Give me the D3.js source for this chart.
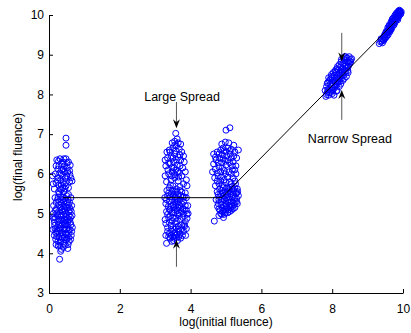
<!DOCTYPE html>
<html>
<head>
<meta charset="utf-8">
<script src="https://cdn.jsdelivr.net/npm/d3@7"></script>
<style>
html,body{margin:0;padding:0;background:#fff;}
svg{display:block;}
text{font-family:"Liberation Sans",Arial,Helvetica,sans-serif;fill:#000;}
</style>
</head>
<body>
<svg id="chart" width="411" height="333"></svg>
<script>
// ---------- data ----------
const xTicks = [0, 2, 4, 6, 8, 10];
const yTicks = [3, 4, 5, 6, 7, 8, 9, 10];
const xLabel = "log(initial fluence)";
const yLabel = "log(final fluence)";

const cluster1 = [
 [0.15,4.45],[0.22,4.62],[0.31,4.28],[0.40,4.15],[0.48,4.33],[0.55,4.5],[0.62,4.72],[0.18,4.9],[0.27,5.05],[0.36,4.85],
 [0.45,4.6],[0.52,4.88],[0.60,5.1],[0.13,5.2],[0.24,5.35],[0.33,5.15],[0.42,5.3],[0.50,5.45],[0.58,5.28],[0.65,4.95],
 [0.20,4.22],[0.28,4.4],[0.37,4.52],[0.46,4.2],[0.53,4.12],[0.35,4.1],[0.26,4.18],[0.44,4.4],[0.57,4.3],[0.63,4.45],
 [0.16,4.7],[0.25,4.8],[0.34,4.68],[0.43,4.75],[0.51,4.7],[0.59,4.6],[0.12,5.0],[0.21,5.12],[0.30,4.95],[0.39,5.05],
 [0.47,5.0],[0.56,5.05],[0.64,5.2],[0.17,5.4],[0.29,5.5],[0.38,5.42],[0.46,5.18],[0.54,5.35],[0.62,5.4],[0.11,4.6],
 [0.19,4.35],[0.32,4.58],[0.41,4.95],[0.49,4.48],[0.58,4.85],[0.66,4.65],[0.23,4.55],[0.35,4.32],[0.27,4.72],[0.44,5.12],
 [0.36,5.25],[0.52,5.15],[0.14,4.85],[0.61,4.35],[0.40,4.48],[0.30,5.3],[0.48,4.82],[0.22,5.0],[0.55,4.58],[0.33,4.05],
 [0.19,4.52],[0.29,4.62],[0.38,4.38],[0.47,4.5],[0.56,4.4],[0.64,4.55],[0.15,4.78],[0.24,4.95],[0.33,4.78],[0.42,4.62],
 [0.50,4.6],[0.60,4.78],[0.18,5.08],[0.27,5.22],[0.37,5.1],[0.46,5.08],[0.55,5.22],[0.63,5.05],[0.20,5.28],[0.33,5.42],
 [0.45,5.38],[0.55,5.48],[0.25,4.3],[0.42,4.25],[0.51,4.38],[0.30,4.5],[0.38,4.72],[0.48,4.92],[0.57,4.95],[0.12,4.9],
 [0.22,4.42],[0.35,4.95],[0.44,4.85],[0.53,4.78],[0.61,4.9],[0.39,5.35],[0.26,5.42],[0.49,5.28],[0.31,4.2],[0.58,5.15],
 [0.17,4.62],[0.41,5.18],[0.35,4.42],[0.28,4.85],[0.54,4.22],[0.45,4.72],
 [0.42,5.55],[0.35,5.6],[0.28,5.72],[0.20,5.78],[0.12,5.75],[0.10,5.95],[0.18,6.0],[0.25,5.9],[0.33,5.85],[0.40,5.78],
 [0.48,5.7],[0.55,5.65],[0.62,5.9],[0.50,5.95],[0.44,6.05],[0.36,6.1],[0.28,6.2],[0.22,6.35],[0.31,6.38],[0.40,6.3],
 [0.48,6.38],[0.55,6.3],[0.60,6.22],[0.52,6.15],[0.43,6.2],[0.30,6.02],[0.38,5.95],[0.58,5.8],[0.46,5.88],[0.25,6.12],
 [0.15,5.62],[0.65,5.82],[0.53,6.05],[0.35,5.72],[0.27,5.55],[0.42,6.38],[0.58,6.08],[0.39,5.65],[0.32,5.62],[0.24,5.82],
 [0.47,5.78],[0.35,6.0],[0.41,6.12],[0.27,6.32],[0.51,6.28],[0.59,5.98],[0.20,6.2],[0.45,5.62],[0.38,6.25],
 [0.48,6.9],[0.48,6.72],[0.30,3.85]
];

const cluster2 = [
 [3.30,4.45],[3.40,4.5],[3.50,4.42],[3.60,4.4],[3.70,4.48],[3.80,4.55],[3.88,4.62],[3.35,4.65],[3.45,4.7],[3.55,4.6],
 [3.65,4.68],[3.75,4.72],[3.85,4.8],[3.28,4.85],[3.38,4.9],[3.48,4.82],[3.58,4.88],[3.68,4.95],[3.78,4.9],[3.90,4.98],
 [3.32,5.05],[3.42,5.1],[3.52,5.02],[3.62,5.08],[3.72,5.15],[3.82,5.1],[3.92,5.2],[3.30,5.25],[3.40,5.3],[3.50,5.22],
 [3.60,5.28],[3.70,5.35],[3.80,5.3],[3.88,5.4],[3.35,5.45],[3.45,5.5],[3.55,5.42],[3.65,5.48],[3.75,5.55],[3.85,5.52],
 [3.33,5.58],[3.47,4.55],[3.57,4.75],[3.67,4.55],[3.43,4.95],[3.53,5.15],[3.63,4.98],[3.73,5.05],[3.37,5.18],[3.83,4.68],
 [3.58,5.38],[3.68,5.22],[3.48,5.35],[3.78,5.42],[3.62,4.48],[3.52,4.32],[3.72,4.38],[3.42,4.38],[3.93,5.0],[3.27,5.4],
 [3.57,5.55],[3.86,4.45],
 [3.35,4.55],[3.45,4.6],[3.55,4.52],[3.65,4.6],[3.75,4.62],[3.82,4.72],[3.40,4.78],[3.50,4.9],[3.60,4.8],[3.70,4.85],
 [3.80,5.0],[3.88,5.08],[3.35,4.98],[3.45,5.18],[3.55,5.1],[3.65,5.15],[3.75,5.25],[3.85,5.2],[3.32,5.35],[3.42,5.42],
 [3.52,5.48],[3.62,5.38],[3.72,5.45],[3.82,5.42],[3.38,5.52],[3.50,5.58],[3.62,5.55],[3.70,5.58],[3.45,4.45],[3.57,4.45],
 [3.67,4.42],[3.77,4.45],[3.30,4.75],[3.90,4.88],[3.58,4.65],[3.48,5.02],[3.68,5.02],[3.58,5.2],[3.40,5.1],[3.78,5.12],
 [3.53,4.38],[3.63,4.32],[3.47,4.3],[3.55,5.3],[3.65,5.3],[3.38,4.42],
 [3.40,5.65],[3.50,5.7],[3.60,5.62],[3.70,5.68],[3.80,5.75],[3.88,5.85],[3.32,5.8],[3.45,5.85],[3.55,5.9],[3.65,5.82],
 [3.75,5.95],[3.38,6.0],[3.48,6.05],[3.58,6.1],[3.68,6.02],[3.78,6.15],[3.30,6.2],[3.42,6.25],[3.52,6.3],[3.62,6.22],
 [3.72,6.35],[3.82,6.3],[3.35,6.4],[3.45,6.45],[3.55,6.5],[3.65,6.42],[3.75,6.55],[3.40,6.6],[3.50,6.65],[3.60,6.7],
 [3.68,6.62],[3.55,6.82],[3.62,6.88],[3.58,7.02],[3.28,5.95],[3.33,6.55],[3.85,6.05],[3.72,6.75],[3.48,6.78],[3.90,5.7],
 [3.28,6.35],[3.63,6.05],[3.53,6.15],[3.43,5.72],[3.46,5.95],[3.56,5.98],[3.66,5.92],[3.36,6.1],[3.70,6.2],[3.50,6.4],
 [3.60,6.35],[3.42,6.55],[3.58,6.58],[3.70,6.48],[3.80,6.45],[3.55,6.72],[3.65,6.78],[3.38,6.28],[3.47,6.15],
 [3.32,4.25]
];

const cluster3 = [
 [4.85,5.0],[4.95,4.98],[5.05,5.02],[5.15,5.08],[5.25,5.15],[5.32,5.25],[4.80,5.12],[4.90,5.15],[5.00,5.1],[5.10,5.2],
 [5.20,5.28],[5.30,5.38],[4.78,5.25],[4.88,5.3],[4.98,5.25],[5.08,5.35],[5.18,5.42],[5.28,5.5],[4.82,5.42],[4.92,5.45],
 [5.02,5.4],[5.12,5.5],[5.22,5.58],[5.32,5.62],[4.75,5.55],[4.87,5.58],[4.97,5.55],[5.07,5.62],[5.17,5.68],[5.27,5.75],
 [4.90,5.05],[5.00,5.2],[5.10,5.05],[5.20,5.12],[4.95,5.35],[5.05,5.48],[5.15,5.3],[5.25,5.4],[4.85,5.5],[5.35,5.45],
 [4.72,5.35],[5.12,5.65],[4.93,4.9],[4.80,4.95],
 [4.83,5.08],[4.93,5.08],[5.03,5.15],[5.13,5.15],[5.23,5.22],[5.30,5.3],[4.86,5.22],[4.96,5.18],[5.06,5.28],[5.16,5.22],
 [5.26,5.3],[4.80,5.35],[4.90,5.38],[5.00,5.32],[5.10,5.42],[5.20,5.48],[5.30,5.52],[4.78,5.48],[4.90,5.52],[5.00,5.48],
 [5.10,5.58],[5.20,5.62],[4.82,5.62],[4.92,5.65],[5.02,5.65],[5.15,5.75],[5.25,5.65],[4.88,4.98],[4.98,5.02],[5.08,5.1],
 [5.18,5.18],[4.76,5.18],[5.33,5.55],[5.05,5.55],
 [4.70,5.7],[4.80,5.75],[4.90,5.72],[5.00,5.78],[5.10,5.8],[5.20,5.9],[4.68,5.9],[4.78,5.95],[4.88,5.92],[4.98,6.0],
 [5.08,6.05],[5.18,6.1],[5.28,6.0],[4.70,6.12],[4.80,6.18],[4.90,6.15],[5.00,6.22],[5.10,6.28],[5.20,6.3],[5.28,6.2],
 [4.72,6.35],[4.82,6.4],[4.92,6.38],[5.02,6.45],[5.12,6.5],[5.22,6.45],[4.75,6.55],[4.85,6.6],[4.95,6.58],[5.05,6.65],
 [5.15,6.62],[5.25,6.55],[4.65,6.5],[4.88,6.75],[4.98,6.8],[5.08,6.78],[5.00,7.1],[5.11,7.16],[4.65,6.25],[5.30,6.4],
 [4.95,5.85],[5.05,6.35],[4.85,6.05],[5.15,6.0],[5.35,6.6],[4.62,6.05],[5.22,6.72],[4.75,5.82],[4.75,6.02],[4.85,5.82],
 [4.95,6.08],[5.05,5.92],[5.25,6.1],[4.78,6.28],[4.88,6.28],[4.98,6.32],[5.15,6.4],[4.80,6.5],[4.90,6.48],[5.00,6.55],
 [5.10,6.58],[4.70,6.42],[4.92,6.65],[5.18,6.2],[5.25,5.82],
 [4.67,4.81]
];

const cluster4 = [
 [7.82,7.95],[7.86,8.05],[7.84,8.2],[7.90,7.98],[7.92,8.12],[7.88,8.3],[7.96,8.05],[7.98,8.2],[7.95,8.38],[8.02,8.1],
 [8.04,8.25],[8.00,8.42],[8.08,8.18],[8.10,8.32],[8.06,8.48],[8.14,8.25],[8.16,8.4],[8.12,8.55],[8.20,8.32],[8.22,8.47],
 [8.18,8.62],[8.26,8.4],[8.28,8.55],[8.24,8.7],[8.32,8.48],[8.34,8.62],[8.30,8.78],[8.38,8.58],[8.40,8.72],[8.36,8.85],
 [8.44,8.68],[8.46,8.8],[8.42,8.92],[8.50,8.78],[8.52,8.88],[8.48,8.95],[8.55,8.9],[7.90,8.42],[8.00,8.02],[8.10,8.62],
 [8.20,8.2],[8.30,8.35],[8.40,8.45],[7.80,8.1],[8.15,8.7],[8.25,8.82],[8.45,8.55],[8.05,7.98],[7.98,8.5],[8.35,8.95],
 [8.12,8.08],[7.84,8.0],[7.88,8.12],[7.86,8.28],[7.92,8.05],[7.94,8.25],[7.92,8.35],[7.98,8.12],[8.00,8.3],[7.97,8.45],
 [8.04,8.15],[8.06,8.35],[8.03,8.55],[8.10,8.25],[8.12,8.42],[8.08,8.58],[8.16,8.32],[8.18,8.5],[8.14,8.65],[8.22,8.4],
 [8.24,8.58],[8.20,8.75],[8.28,8.48],[8.30,8.65],[8.26,8.88],[8.34,8.55],[8.36,8.72],[8.32,8.9],[8.40,8.65],[8.42,8.82],
 [8.38,8.95],[8.46,8.72],[8.48,8.85],[8.52,8.82],[8.14,8.1],[8.24,8.26],[8.34,8.4],[8.44,8.6]
];

const cluster5 = [
 [9.42,9.3],[9.46,9.36],[9.50,9.42],[9.48,9.5],[9.53,9.45],[9.55,9.55],[9.58,9.5],[9.60,9.62],[9.57,9.68],[9.63,9.58],
 [9.65,9.7],[9.62,9.76],[9.68,9.66],[9.70,9.78],[9.67,9.84],[9.73,9.74],[9.75,9.86],[9.72,9.92],[9.78,9.82],[9.80,9.94],
 [9.77,9.99],[9.83,9.9],[9.85,10.0],[9.82,10.05],[9.88,9.96],[9.90,10.06],[9.87,10.1],[9.93,10.02],[9.95,10.08],[9.45,9.44],
 [9.52,9.58],[9.60,9.72],[9.70,9.9],[9.80,10.02],[9.90,10.12],[9.65,9.62],[9.75,9.76],[9.85,9.88],
 [9.44,9.38],[9.48,9.42],[9.50,9.52],[9.54,9.5],[9.56,9.6],[9.59,9.56],[9.60,9.66],[9.64,9.64],[9.66,9.76],[9.69,9.72],
 [9.70,9.84],[9.74,9.8],[9.76,9.92],[9.79,9.88],[9.81,9.98],[9.84,9.95],[9.86,10.04],[9.89,10.0],[9.92,10.08],[9.94,10.04],
 [9.47,9.47],[9.63,9.68],[9.73,9.86],[9.83,9.96],[9.91,10.1],[9.58,9.62],[9.68,9.78],[9.78,9.9],[9.88,10.06],
 [9.33,9.28],[9.37,9.32],[9.38,9.4],[9.40,9.35]
];

const fitLine = [[0.4,5.4],[4.88,5.4],[9.8,9.85]];

// annotations: arrows [x, yTail, yTip] and labels [text, x, y]
const arrows = [[3.6,7.81,7.15],[3.6,3.66,4.34],[8.27,9.55,8.83],[8.27,7.36,8.11]];
const labels = [["Large Spread",3.76,7.83],["Narrow Spread",8.5,6.77]];

// ---------- drawing ----------
const svg = d3.select("#chart");
const x = d3.scaleLinear().domain([0,10]).range([49,403]);
const y = d3.scaleLinear().domain([3,10]).range([293,15]);

const allPts = [cluster1, cluster2, cluster3, cluster4, cluster5].flat();
svg.append("g").selectAll("circle").data(allPts).join("circle")
  .attr("cx", d => x(d[0])).attr("cy", d => y(d[1])).attr("r", 3)
  .attr("fill", "none").attr("stroke", "#0000ff").attr("stroke-width", 1);

svg.append("path").datum(fitLine)
  .attr("d", d3.line().x(d => x(d[0])).y(d => y(d[1])))
  .attr("fill","none").attr("stroke","#000").attr("stroke-width",1);

// axes
const xAxis = d3.axisBottom(x).tickValues(xTicks).tickSizeInner(-4).tickSizeOuter(0).tickPadding(11).tickFormat(d3.format("d"));
const yAxis = d3.axisLeft(y).tickValues(yTicks).tickSizeInner(-4).tickSizeOuter(0).tickPadding(5).tickFormat(d3.format("d"));
const gx = svg.append("g").attr("transform","translate(0,293)").call(xAxis);
const gy = svg.append("g").attr("transform","translate(49,0)").call(yAxis);
[gx,gy].forEach(g => {
  g.selectAll("text").style("font-size","12px").attr("fill","#000");
  g.select(".domain").attr("stroke","#000");
  g.selectAll(".tick line").attr("stroke","#000");
});

svg.append("text").attr("x", 226).attr("y", 326).attr("text-anchor","middle")
  .style("font-size","12px").text(xLabel);
svg.append("text").attr("transform","translate(22,157) rotate(-90)").attr("text-anchor","middle")
  .style("font-size","12px").text(yLabel);

// arrows
arrows.forEach(a => {
  const ax = x(a[0]), y0 = y(a[1]), y1 = y(a[2]);
  const dir = Math.sign(y1 - y0);
  svg.append("line").attr("x1",ax).attr("x2",ax).attr("y1",y0).attr("y2",y1 - dir*6)
    .attr("stroke","#555").attr("stroke-width",1);
  const hl = 9, hw = 3.5, notch = 6;
  svg.append("path")
    .attr("d", `M${ax},${y1} L${ax-hw},${y1-dir*hl} L${ax},${y1-dir*notch} L${ax+hw},${y1-dir*hl} Z`)
    .attr("fill","#000");
});

labels.forEach(l => {
  svg.append("text").attr("x", x(l[1])).attr("y", y(l[2])).attr("text-anchor","middle")
    .style("font-size","12.5px").text(l[0]);
});
</script>
</body>
</html>
